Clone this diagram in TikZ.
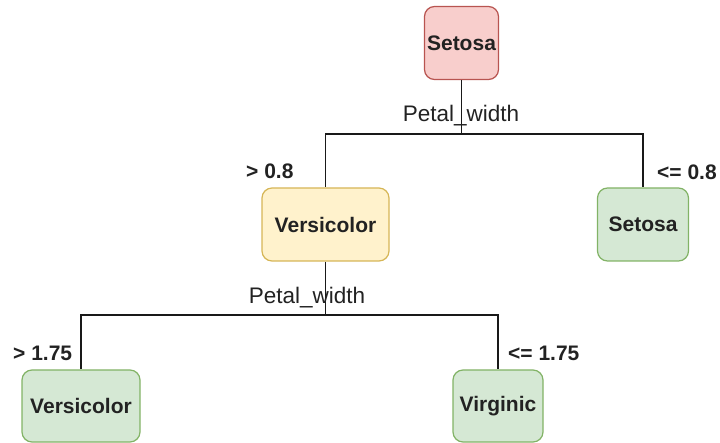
\documentclass[tikz,border=0pt]{standalone}
\usepackage{fontspec}
\setmainfont{Liberation Sans}
\definecolor{redfill}{HTML}{F8CECC}
\definecolor{redline}{HTML}{B85450}
\definecolor{yelfill}{HTML}{FFF2CC}
\definecolor{yelline}{HTML}{D6B656}
\definecolor{grnfill}{HTML}{D5E8D4}
\definecolor{grnline}{HTML}{82B366}
\definecolor{txt}{HTML}{222222}
\tikzset{
  box/.style={rectangle, rounded corners=10pt, line width=1.2pt, minimum height=73pt,
    inner sep=0pt, font=\fontsize{21}{25}\selectfont\bfseries, text=txt},
  redbox/.style={box, fill=redfill, draw=redline},
  yelbox/.style={box, fill=yelfill, draw=yelline},
  grnbox/.style={box, fill=grnfill, draw=grnline},
  conn/.style={line width=1.8pt, draw=black!90},
  cond/.style={font=\fontsize{21}{25}\selectfont\bfseries, text=txt, inner sep=0pt},
  feat/.style={font=\fontsize{22.5}{26}\selectfont, text=txt, inner sep=0pt}
}
\begin{document}
\begin{tikzpicture}[x=1pt,y=-1pt]
\useasboundingbox (0,0) rectangle (720,443);
\node[redbox, minimum width=74pt] (root) at (461.5,43) {Setosa};
\node[yelbox, minimum width=127pt] (vers1) at (325.5,224.5) {Versicolor};
\node[grnbox, minimum width=91pt] (set2) at (643,224.5) {Setosa};
\node[grnbox, minimum width=118pt, minimum height=72pt] (vers2) at (81,406) {Versicolor};
\node[grnbox, minimum width=90pt, minimum height=72pt] (virg) at (498,406) {Virginic};
\coordinate (j1) at (461.5,134);
\coordinate (j2) at (325.5,315);
\draw[conn] (root.south) -- (j1) -| (vers1.north);
\draw[conn] (j1) -| (set2.north);
\draw[conn] (vers1.south) -- (j2) -| (vers2.north);
\draw[conn] (j2) -| (virg.north);
\node[feat] (f1) at (461,116) {Petal\_width};
\node[feat] (f2) at (307,298) {Petal\_width};
\node[cond, anchor=west] (c1) at (246,171) {> 0.8};
\node[cond, anchor=west] (c2) at (657,172) {<= 0.8};
\node[cond, anchor=west] (c3) at (13,353) {> 1.75};
\node[cond, anchor=west] (c4) at (508,353) {<= 1.75};
\end{tikzpicture}
\end{document}
